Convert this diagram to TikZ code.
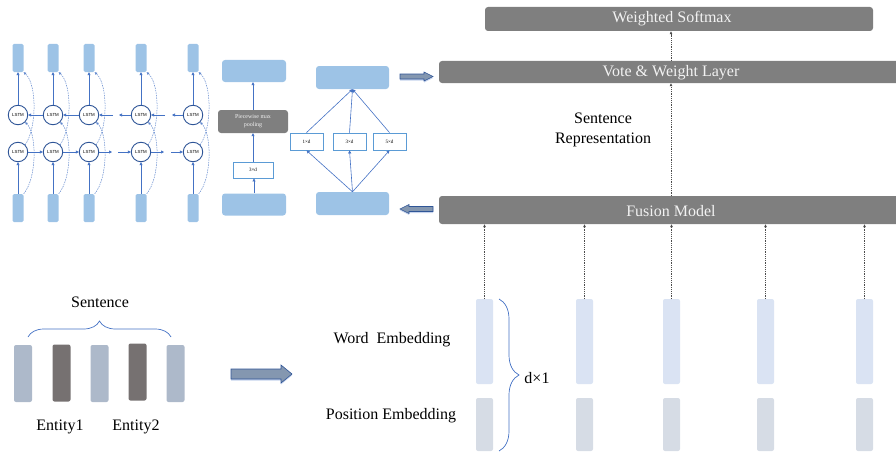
\documentclass[tikz,border=0pt]{standalone}
\usepackage{fontspec}
\setmainfont{Liberation Serif}
\newfontfamily\tnr{Liberation Serif}
\newfontfamily\lsans{Liberation Sans}
\usetikzlibrary{arrows.meta,decorations.pathreplacing,shadows}
\definecolor{lstmblue}{HTML}{9DC3E6}
\definecolor{arrowblue}{HTML}{4472C4}
\definecolor{cellblue}{HTML}{2F5597}
\definecolor{kblue}{HTML}{5B9BD5}
\definecolor{boxgrey}{HTML}{7F7F7F}
\definecolor{textlight}{HTML}{F2F2F2}
\definecolor{wordfill}{HTML}{DAE3F3}
\definecolor{posfill}{HTML}{D6DCE5}
\definecolor{sentlight}{HTML}{ADB9CA}
\definecolor{sentdark}{HTML}{767171}
\definecolor{blkfill}{HTML}{8497B0}
\begin{document}
\begin{tikzpicture}[x=1pt,y=-1pt,
  lstmrect/.style={fill=lstmblue, rounded corners=1.5pt, inner sep=0pt, minimum width=11pt, minimum height=28pt},
  lstmcell/.style={circle, draw=cellblue, line width=0.9pt, fill=white, minimum size=19.5pt, inner sep=0pt, font=\lsans\fontsize{4.4}{5}\selectfont},
  barr/.style={draw=arrowblue, line width=0.6pt, -{Triangle[length=3pt,width=3pt]}},
  dcurve/.style={draw=arrowblue!85, dash pattern=on 1.5pt off 1pt, line width=0.5pt, -{Triangle[length=2.5pt,width=2.5pt]}},
  cnnrect/.style={fill=lstmblue, rounded corners=3pt, inner sep=0pt, minimum width=64pt, minimum height=22pt},
  kbox/.style={draw=kblue, line width=0.8pt, fill=white, inner sep=0pt, minimum width=33pt, minimum height=17pt, font=\tnr\fontsize{5}{6}\selectfont},
  greybox/.style={fill=boxgrey, rounded corners=3pt, inner sep=0pt, text=textlight, align=center},
  bigbox/.style={greybox, font=\tnr\fontsize{16}{19}\selectfont},
  darr/.style={draw=black!70, dash pattern=on 1.2pt off 1pt, line width=0.6pt, -{Triangle[length=3pt,width=2.5pt]}},
  wordbar/.style={fill=wordfill, rounded corners=2pt, inner sep=0pt, minimum width=17pt, minimum height=85pt},
  posbar/.style={fill=posfill, rounded corners=2pt, inner sep=0pt, minimum width=17pt, minimum height=53pt},
  sentbar/.style={rounded corners=2pt, inner sep=0pt, minimum width=18pt, minimum height=57pt},
  lbl/.style={inner sep=0pt, align=center, font=\tnr\fontsize{16}{20}\selectfont},
  blk/.style={fill=blkfill, draw=cellblue, line width=0.6pt, drop shadow={opacity=0.3, shadow xshift=0pt, shadow yshift=-1.5pt, fill=arrowblue}},
  brc/.style={draw=arrowblue, line width=0.7pt, decorate}
]
\useasboundingbox (0,0) rectangle (896,452);

% ---------- BiLSTM ----------
\foreach \n/\x in {1/18,2/53,3/89,4/141,5/193} {
  \node[lstmrect] (in\n) at (\x,208) {};
  \node[lstmcell] (b\n) at (\x,152) {LSTM};
  \node[lstmcell] (t\n) at (\x,115) {LSTM};
  \node[lstmrect] (out\n) at (\x,58) {};
}
\foreach \n/\x in {1/18,2/53,3/89,4/141,5/193} {
  \draw[barr] (in\n) -- (b\n);
  \draw[barr] (t\n) -- (out\n);
  \draw[dcurve] (in\n.north east) .. controls (\x+19,178) and (\x+19,134) .. (t\n.south east);
  \draw[dcurve] (b\n.north east) .. controls (\x+19,128) and (\x+19,84) .. (out\n.south east);
}
\draw[barr] (t2) -- (t1);
\draw[barr] (t3) -- (t2);
\coordinate (ta) at (113,115); \coordinate (tb) at (119,115);
\draw[barr] (ta) -- (t3);
\draw[barr] (t4) -- (tb);
\coordinate (tc) at (165,115); \coordinate (td) at (172,115);
\draw[barr] (tc) -- (t4);
\draw[barr] (t5) -- (td);
\draw[barr] (b1) -- (b2);
\draw[barr] (b2) -- (b3);
\coordinate (ba) at (112,152); \coordinate (bb) at (118,152);
\draw[barr] (b3) -- (ba);
\draw[barr] (bb) -- (b4);
\coordinate (bc) at (164,152); \coordinate (bd) at (171,152);
\draw[barr] (b4) -- (bc);
\draw[barr] (bd) -- (b5);

% ---------- PCNN ----------
\node[cnnrect] (pcTop) at (254,71) {};
\node[greybox, minimum width=70pt, minimum height=23pt, font=\tnr\fontsize{6}{8}\selectfont] (pool) at (253,121.5) {Piecewise max\\pooling};
\node[kbox, minimum width=40pt, minimum height=16pt] (k3) at (253,170) {3×d};
\node[cnnrect] (pcBot) at (254,204.5) {};
\draw[barr] (pcBot) -- (pcBot.north |- k3.south);
\draw[barr] (k3) -- (k3.north |- pool.south);
\draw[barr] (pool) -- (pool.north |- pcTop.south);

% ---------- multi-window CNN ----------
\node[cnnrect, minimum width=73pt, minimum height=23pt] (cnnTop) at (352.5,77.5) {};
\node[cnnrect, minimum width=73pt, minimum height=23pt] (cnnBot) at (352.5,203.5) {};
\node[kbox] (c1) at (306.5,141.5) {1×d};
\node[kbox] (c3) at (349.5,141.5) {3×d};
\node[kbox] (c5) at (389.5,141.5) {5×d};
\foreach \c in {c1,c3,c5} {
  \draw[barr] (cnnBot.north) -- (\c.south);
  \draw[barr] (\c.north) -- (cnnTop.south);
}

% ---------- block arrows ----------
\path[blk] (400,74) -- (424,74) -- (424,72) -- (433,76.5) -- (424,81) -- (424,79) -- (400,79) -- cycle;
\path[blk] (433,206.5) -- (409,206.5) -- (409,204.5) -- (400,209) -- (409,213.5) -- (409,211.5) -- (433,211.5) -- cycle;
\path[blk] (231,369) -- (281,369) -- (281,365) -- (292,374) -- (281,383) -- (281,379) -- (231,379) -- cycle;

% ---------- right stack ----------
\node[bigbox, minimum width=388pt, minimum height=24pt] (soft) at (679,19) {};
\node[text=textlight, inner sep=0pt, font=\tnr\fontsize{16}{19}\selectfont] (softlbl) at (672,19) {Weighted Softmax};
\node[bigbox, minimum width=464pt, minimum height=22pt] (vote) at (671,72) {};
\node[text=textlight, inner sep=0pt, font=\tnr\fontsize{16}{19}\selectfont] (votelbl) at (671,73) {Vote \& Weight Layer};
\node[bigbox, minimum width=464pt, minimum height=28pt] (fusion) at (671,210) {};
\node[text=textlight, inner sep=0pt, font=\tnr\fontsize{16}{19}\selectfont] (fuslbl) at (671,211.5) {Fusion Model};
\draw[darr] (fusion.north) -- (vote.south);
\draw[darr] (vote.north) -- (vote.north |- soft.south);
\node[lbl] (sr) at (603,129.5) {Sentence\\Representation};

% ---------- embeddings ----------
\foreach \n/\x in {1/484.5,2/584.5,3/671.5,4/765.5,5/864.5} {
  \node[wordbar] (w\n) at (\x,341.5) {};
  \node[posbar] (p\n) at (\x,424.5) {};
}
\foreach \n in {1,...,5} \draw[darr] (w\n.north) -- (w\n.north |- fusion.south);
\node[lbl] (we) at (392,339.5) {Word\ \ Embedding};
\node[lbl] (pe) at (391,416) {Position Embedding};
\draw[brc, decoration={brace, amplitude=20pt}] (499,299) -- (499,451);
\node[lbl] (dx) at (537,378) {d×1};

% ---------- sentence ----------
\node[sentbar, fill=sentlight] (s1) at (23,373.5) {};
\node[sentbar, fill=sentdark] (s2) at (61.5,373) {};
\node[sentbar, fill=sentlight] (s3) at (99.5,373.5) {};
\node[sentbar, fill=sentdark] (s4) at (137.5,372) {};
\node[sentbar, fill=sentlight] (s5) at (175.5,373.5) {};
\draw[brc, decoration={brace, amplitude=16pt}] (28,337) -- (171,337);
\node[lbl] (sent) at (100,302) {Sentence};
\node[lbl] (e1) at (60,427) {Entity1};
\node[lbl] (e2) at (136,427) {Entity2};
\end{tikzpicture}
\end{document}
